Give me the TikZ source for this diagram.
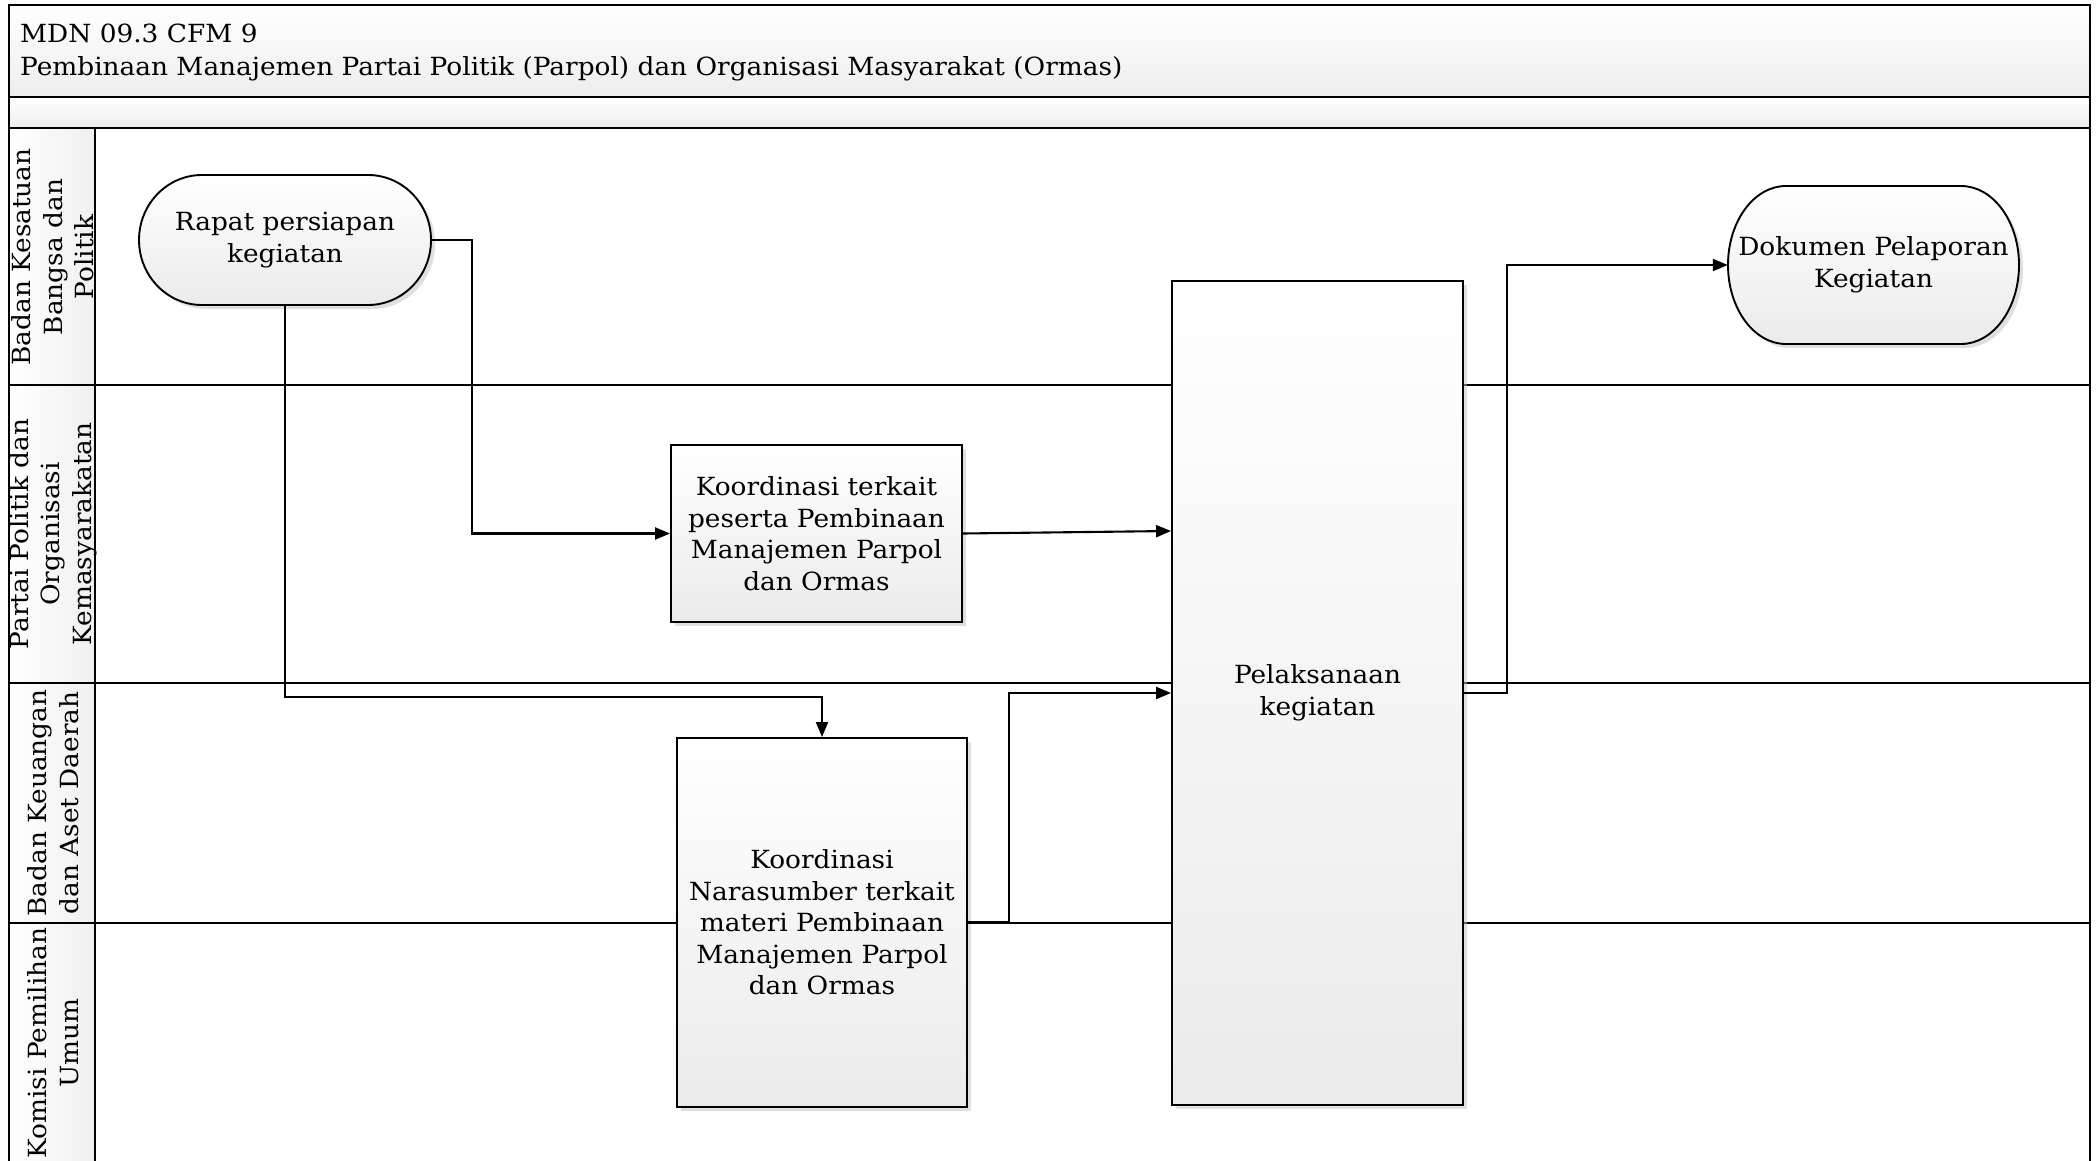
\documentclass[tikz,border=0pt]{standalone}
\usepackage{fontspec}
\setmainfont{DejaVu Serif}[FakeStretch=1.055]
\usetikzlibrary{arrows.meta,shadows,calc}
\newcommand\dfont{\fontsize{25}{31.5}\selectfont}
\begin{document}
\begin{tikzpicture}[x=1pt,y=-1pt,
  frame/.style={line width=2.2pt, draw=black},
  flow/.style={line width=2.1pt, draw=black, -{Triangle[length=15pt,width=12pt]}},
  boxshade/.style={top color=white, bottom color=gray!16},
  sh/.style={drop shadow={shadow xshift=4pt, shadow yshift=-4pt, fill=black!25, opacity=0.5}},
  procbox/.style={draw=black, line width=1.9pt, boxshade, sh, align=center, font=\dfont, inner sep=0pt},
  termshape/.style={draw=black, line width=1.9pt, boxshade, sh},
  termtext/.style={draw=none, align=center, font=\dfont, inner sep=0pt},
  lanelabel/.style={rotate=90, align=center, font=\dfont, inner sep=0pt},
  titletext/.style={anchor=base west, font=\dfont, inner sep=0pt}
]
\useasboundingbox (0,0) rectangle (2097,1161);
% bands
\path[top color=white, bottom color=gray!14] (9,5) rectangle (2090,97);
\path[top color=white, bottom color=gray!14] (9,97) rectangle (2090,128);
\path[left color=white, right color=gray!12] (9,128) rectangle (95,1161);
% lane labels
\node[lanelabel] (l1) at (53,257) {Badan Kesatuan\\Bangsa dan\\Politik};
\node[lanelabel] (l2) at (53,534) {Partai Politik dan\\Organisasi\\Kemasyarakatan};
\node[lanelabel] (l3) at (53,803) {Badan Keuangan\\dan Aset Daerah};
\node[lanelabel] (l4) at (53,1043) {Komisi Pemilihan\\Umum};
% frame lines
\draw[frame] (9,1161) -- (9,5) -- (2090,5) -- (2090,1161);
\draw[frame] (9,97) -- (2090,97);
\draw[frame] (9,128) -- (2090,128);
\draw[frame] (95,128) -- (95,1161);
\foreach \yy in {385,683,923} \draw[frame] (9,\yy) -- (2090,\yy);
% title
\node[titletext] (t1) at (20,43) {MDN 09.3 CFM 9};
\node[titletext] (t2) at (20,76) {Pembinaan Manajemen Partai Politik (Parpol) dan Organisasi Masyarakat (Ormas)};
% terminal shapes
\path[termshape] (202,175) -- (368,175) arc[start angle=-90, end angle=90, x radius=63, y radius=65] -- (202,305) arc[start angle=90, end angle=270, x radius=63, y radius=65] -- cycle;
\node[termtext, minimum width=292pt, minimum height=130pt] (r) at (285,240) {Rapat persiapan\\kegiatan};
\path[termshape] (1786,186) -- (1961,186) arc[start angle=-90, end angle=90, x radius=58, y radius=79] -- (1786,344) arc[start angle=90, end angle=270, x radius=58, y radius=79] -- cycle;
\node[termtext, minimum width=291pt, minimum height=158pt] (d) at (1873.5,265) {Dokumen Pelaporan\\Kegiatan};
% process boxes
\node[procbox, minimum width=291pt, minimum height=177pt] (b1) at (816.5,533.5) {Koordinasi terkait\\peserta Pembinaan\\Manajemen Parpol\\dan Ormas};
\node[procbox, minimum width=290pt, minimum height=369pt] (b2) at (822,922.5) {Koordinasi\\Narasumber terkait\\materi Pembinaan\\Manajemen Parpol\\dan Ormas};
\node[procbox, minimum width=291pt, minimum height=824pt] (b3) at (1317.5,693) {Pelaksanaan\\kegiatan};
% connectors
\draw[flow] (r.east) -- ++(41,0) |- (b1.west);
\draw[flow] (r.south) |- ($(b2.north)+(0,-40)$) -- (b2.north);
\draw[flow] (b1.east) -- ($(b3.west)+(0,-162)$);
\draw[flow] (b2.east) -- ++(41,0) |- (b3.west);
\draw[flow] (b3.east) -- ++(43,0) |- (d.west);
\end{tikzpicture}
\end{document}
